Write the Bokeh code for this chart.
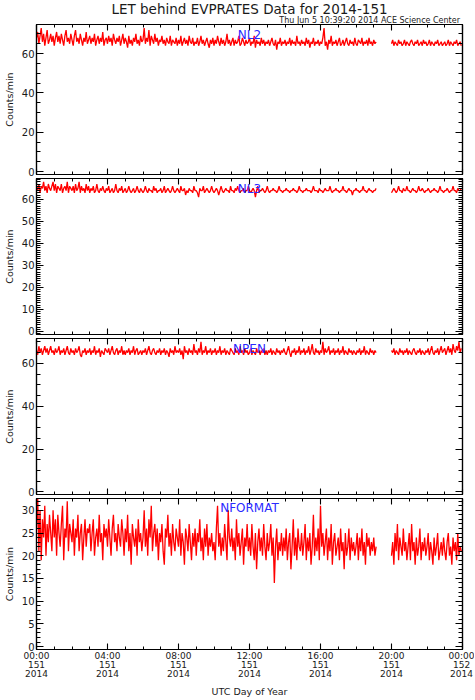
import numpy as np
from bokeh.plotting import figure
from bokeh.layouts import column
from bokeh.models import (Range1d, LinearAxis, SingleIntervalTicker, Label, Title,
                          CustomLabelingPolicy)
from bokeh.embed import file_html
from bokeh.resources import INLINE

# ---------------- texts ----------------
title_text = "LET behind EVPRATES Data for 2014-151"
stamp_text = "Thu Jun  5 10:39:20 2014 ACE Science Center"
x_label = "UTC Day of Year"
y_label = "Counts/min"
panel_names = ["NL2", "NL3", "NPEN", "NFORMAT"]
x_tick_hours = [0, 4, 8, 12, 16, 20, 24]
x_tick_labels = ["00:00\n151\n2014", "04:00\n151\n2014", "08:00\n151\n2014",
                 "12:00\n151\n2014", "16:00\n151\n2014", "20:00\n151\n2014",
                 "00:00\n152\n2014"]

# ---------------- sampling (hours of day 151) ----------------
seg_a_start = 0.0       # data up to ~19:08
seg_b_start = 20.0      # data resumes at 20:00
cadence_h = 4.0 / 60.0  # one value every 4 minutes

# ---------------- series values (counts/min) ----------------
nl2_a = [68, 71, 65, 69, 73, 66, 70, 64, 68, 72, 65, 67, 70, 66, 69,
         64, 68, 71, 66, 69, 65, 70, 67, 64, 69, 72, 66, 68, 65, 70,
         67, 64, 69, 72, 66, 68, 65, 70, 67, 64, 68, 66, 71, 65, 67,
         69, 65, 68, 66, 70, 64, 67, 69, 65, 68, 66, 71, 64, 67, 68,
         65, 69, 66, 68, 64, 70, 67, 65, 68, 66, 69, 64, 67, 70, 65,
         68, 66, 63, 69, 65, 67, 64, 68, 66, 70, 65, 67, 64, 69, 66,
         67, 73, 65, 68, 66, 72, 64, 69, 67, 65, 70, 66, 68, 64, 67,
         66, 69, 65, 67, 64, 68, 66, 65, 69, 64, 67, 66, 65, 68, 64,
         67, 65, 69, 64, 66, 68, 65, 67, 64, 69, 66, 65, 68, 64, 66,
         65, 68, 64, 66, 69, 65, 67, 64, 66, 68, 65, 63, 67, 65, 68,
         64, 67, 65, 69, 66, 64, 68, 65, 67, 64, 66, 70, 65, 67, 64,
         66, 68, 64, 67, 65, 66, 69, 64, 65, 68, 66, 64, 67, 65, 66,
         68, 64, 66, 65, 69, 63, 67, 65, 66, 64, 68, 65, 67, 64, 66,
         65, 67, 64, 66, 68, 65, 64, 67, 62, 66, 65, 68, 64, 66, 65,
         67, 64, 66, 65, 68, 64, 67, 65, 66, 64, 69, 65, 66, 64, 67,
         65, 66, 64, 68, 65, 67, 63, 66, 65, 68, 64, 66, 65, 67, 64,
         66, 65, 68, 73, 64, 66, 62, 67, 65, 69, 64, 66, 65, 67, 64,
         66, 68, 64, 65, 67, 64, 66, 68, 65, 64, 67, 65, 66, 64, 68,
         65, 64, 67, 66, 65, 68, 64, 66, 65, 67, 64, 68, 65, 66, 64,
         67, 65, 66]
nl2_b = [65, 67, 64, 66, 65, 64, 67, 65, 66, 64, 65, 67, 64, 66, 65,
         64, 66, 67, 65, 64, 66, 65, 67, 64, 65, 66, 64, 67, 65, 66,
         64, 65, 67, 64, 66, 65, 64, 66, 65, 67, 64, 65, 66, 64, 65,
         66, 64, 65, 67, 64, 66, 65, 64, 66, 65, 67, 64, 65, 66, 64]

nl3_a = [66, 64, 67, 63, 66, 65, 68, 64, 66, 63, 67, 65, 64, 66, 68,
         64, 67, 63, 66, 65, 64, 67, 63, 65, 66, 64, 68, 63, 66, 65,
         64, 66, 63, 67, 64, 65, 68, 63, 66, 64, 65, 63, 67, 64, 66,
         63, 65, 64, 66, 63, 64, 67, 64, 63, 65, 64, 66, 64, 63, 65,
         64, 66, 63, 64, 65, 63, 64, 67, 64, 63, 65, 64, 66, 63, 64,
         65, 63, 64, 66, 64, 63, 64, 65, 63, 64, 66, 64, 63, 65, 64,
         63, 64, 66, 64, 63, 65, 64, 64, 63, 66, 64, 65, 63, 64, 64,
         65, 63, 64, 66, 63, 64, 65, 64, 63, 64, 66, 64, 63, 64, 65,
         64, 63, 66, 64, 64, 65, 62, 64, 63, 65, 64, 64, 63, 66, 64,
         64, 63, 61, 65, 64, 64, 66, 63, 64, 65, 64, 63, 64, 66, 64,
         63, 64, 65, 64, 62, 64, 66, 64, 63, 64, 65, 64, 64, 63, 66,
         64, 64, 63, 65, 64, 66, 64, 63, 64, 64, 65, 63, 64, 64, 66,
         64, 63, 64, 65, 64, 61, 64, 66, 63, 64, 64, 65, 64, 63, 64,
         66, 64, 63, 64, 64, 65, 64, 64, 63, 64, 66, 64, 64, 63, 64,
         64, 65, 64, 64, 63, 64, 64, 65, 64, 64, 63, 64, 66, 64, 64,
         63, 64, 64, 65, 64, 64, 64, 63, 64, 66, 64, 64, 64, 63, 65,
         64, 64, 63, 64, 65, 64, 64, 64, 66, 64, 63, 64, 64, 65, 64,
         64, 63, 64, 64, 66, 64, 64, 63, 64, 65, 64, 64, 62, 64, 64,
         65, 64, 64, 63, 64, 64, 66, 64, 64, 63, 64, 65, 64, 64, 63,
         64, 64, 65]
nl3_b = [63, 64, 65, 64, 63, 64, 66, 64, 64, 63, 65, 64, 64, 66, 64,
         64, 63, 64, 65, 64, 64, 63, 64, 66, 64, 64, 65, 64, 63, 64,
         64, 65, 64, 63, 64, 64, 65, 64, 64, 63, 64, 66, 64, 64, 63,
         64, 64, 65, 64, 63, 64, 64, 66, 64, 64, 63, 65, 64, 64, 65]

npen_a = [66, 64, 68, 65, 67, 64, 66, 68, 65, 67, 64, 66, 68, 65, 66,
          64, 67, 65, 66, 68, 64, 66, 65, 67, 64, 66, 68, 65, 64, 67,
          65, 66, 64, 67, 65, 66, 68, 64, 63, 66, 65, 67, 64, 66, 65,
          67, 64, 66, 65, 68, 64, 66, 65, 67, 63, 66, 65, 64, 67, 66,
          65, 67, 64, 66, 68, 65, 64, 66, 67, 64, 66, 65, 68, 64, 66,
          64, 66, 65, 67, 64, 66, 65, 68, 64, 66, 67, 64, 65, 66, 64,
          66, 65, 67, 64, 66, 68, 65, 64, 66, 67, 65, 64, 66, 65, 67,
          64, 66, 65, 67, 64, 66, 65, 63, 67, 65, 66, 64, 68, 65, 66,
          65, 67, 64, 66, 62, 68, 65, 66, 64, 67, 65, 66, 64, 69, 65,
          66, 64, 67, 65, 70, 64, 66, 65, 68, 64, 66, 65, 67, 64, 66,
          65, 67, 64, 66, 65, 68, 64, 66, 65, 67, 64, 66, 65, 64, 67,
          66, 65, 64, 67, 65, 66, 64, 68, 65, 66, 64, 67, 65, 66, 64,
          65, 67, 64, 66, 65, 64, 67, 65, 66, 64, 66, 65, 67, 64, 66,
          64, 66, 65, 67, 64, 66, 65, 64, 67, 65, 66, 64, 66, 65, 67,
          65, 64, 66, 68, 65, 63, 66, 65, 67, 64, 66, 65, 68, 64, 66,
          65, 67, 64, 66, 65, 68, 64, 66, 69, 65, 64, 67, 65, 66, 64,
          66, 65, 70, 64, 67, 65, 66, 68, 64, 66, 65, 67, 64, 66, 65,
          67, 64, 66, 65, 68, 64, 66, 65, 64, 67, 65, 66, 64, 66, 65,
          64, 66, 65, 67, 64, 66, 65, 68, 64, 66, 65, 64, 67, 65, 66,
          64, 66, 65]
npen_b = [66, 65, 67, 64, 66, 65, 64, 67, 65, 66, 64, 66, 65, 67, 64,
          66, 65, 64, 66, 67, 65, 64, 66, 65, 67, 64, 66, 65, 64, 66,
          65, 67, 64, 66, 68, 65, 64, 66, 65, 67, 64, 66, 68, 65, 66,
          67, 64, 66, 68, 65, 67, 64, 69, 66, 65, 68, 66, 70, 65, 67]

nformat_a = [26, 33, 21, 30, 19, 28, 24, 31, 20, 27, 23, 29, 25, 21, 30,
             24, 28, 20, 29, 25, 22, 27, 31, 19, 26, 24, 32, 21, 27, 25,
             23, 28, 20, 26, 24, 29, 21, 25, 27, 19, 24, 28, 22, 26, 25,
             27, 21, 25, 28, 20, 24, 26, 22, 29, 23, 25, 19, 27, 24, 26,
             22, 28, 24, 20, 26, 29, 23, 25, 21, 27, 24, 22, 28, 25, 20,
             26, 23, 29, 21, 25, 18, 27, 24, 22, 26, 20, 28, 23, 25, 21,
             24, 30, 22, 26, 20, 28, 24, 31, 21, 25, 27, 22, 26, 19, 25,
             23, 27, 21, 18, 26, 24, 29, 22, 25, 20, 27, 23, 21, 26, 24,
             22, 28, 20, 25, 23, 18, 26, 24, 21, 27, 23, 19, 25, 22, 26,
             20, 25, 23, 28, 21, 24, 19, 26, 22, 27, 20, 24, 22, 25, 21,
             23, 19, 26, 31, 22, 25, 20, 24, 21, 27, 23, 19, 30, 24, 22,
             26, 21, 24, 19, 28, 22, 25, 20, 23, 26, 18, 24, 22, 27, 21,
             24, 20, 27, 22, 19, 25, 17, 23, 26, 21, 24, 20, 27, 22, 19,
             25, 21, 23, 27, 20, 24, 14, 22, 26, 19, 23, 21, 25, 20, 24,
             21, 26, 19, 23, 25, 17, 22, 28, 20, 24, 19, 26, 22, 21, 25,
             20, 23, 27, 19, 24, 21, 25, 18, 22, 29, 20, 24, 21, 26, 19,
             31, 22, 25, 20, 23, 26, 19, 24, 21, 27, 18, 23, 25, 20, 22,
             24, 19, 26, 21, 23, 17, 25, 20, 22, 26, 19, 24, 21, 23, 20,
             22, 25, 19, 24, 21, 26, 20, 23, 18, 25, 22, 24, 20, 23, 21,
             24, 20, 22]
nformat_b = [20, 23, 18, 25, 21, 27, 19, 24, 22, 20, 26, 21, 23, 19, 22,
             25, 19, 27, 21, 23, 18, 24, 20, 22, 26, 19, 23, 21, 24, 20,
             22, 25, 19, 23, 21, 18, 24, 20, 22, 25, 19, 21, 23, 20, 24,
             21, 19, 23, 25, 20, 22, 18, 24, 21, 23, 19, 25, 20, 22, 21]

# ---------------- styling ----------------
FONT = "DejaVu Sans"
TXT = "#1a1a1a"
W = 474
LEFT, RIGHT = 32, 12

NO_LABELS = """
try { const n = indices.size; for (let i = 0; i < n; i++) { indices.unset(i) } } catch (e) {}
return indices
"""


def style_axis(ax, major_in, minor_in, show_labels, font_size="10px"):
    ax.major_tick_in = major_in
    ax.major_tick_out = 0
    ax.minor_tick_in = minor_in
    ax.minor_tick_out = 0
    ax.axis_line_color = "black"
    ax.axis_line_width = 1.2
    ax.major_tick_line_color = "black"
    ax.minor_tick_line_color = "black"
    ax.major_tick_line_width = 1.1
    ax.minor_tick_line_width = 1.0
    ax.major_label_text_font = FONT
    ax.major_label_text_color = TXT
    if show_labels:
        ax.major_label_text_font_size = font_size
        ax.major_label_standoff = 2
    else:
        ax.major_label_policy = CustomLabelingPolicy(code=NO_LABELS)
        ax.major_label_text_font_size = "0px"
        ax.major_label_standoff = 0


def make_panel(name, va, vb, yr, y_int, y_minor, name_y, height, top, bottom, last):
    p = figure(width=W, height=height, x_range=Range1d(0, 24), y_range=Range1d(*yr),
               output_backend="svg", toolbar_location=None,
               x_axis_type=None, y_axis_type=None,
               min_border_left=LEFT, min_border_right=RIGHT,
               min_border_top=top, min_border_bottom=bottom)
    p.grid.visible = False
    p.outline_line_color = "black"
    p.outline_line_width = 1.2
    p.background_fill_color = "white"
    p.border_fill_color = "white"

    ta = seg_a_start + cadence_h * np.arange(len(va))
    tb = seg_b_start + cadence_h * np.arange(len(vb))
    x = np.concatenate([ta, [np.nan], tb])
    y = np.concatenate([np.array(va, float), [np.nan], np.array(vb, float)])
    p.line(x, y, line_color="red", line_width=1.3)

    # axes
    bottom_ax = LinearAxis(ticker=SingleIntervalTicker(interval=4, num_minor_ticks=4))
    style_axis(bottom_ax, 6, 3, last, "9px")
    if last:
        bottom_ax.major_label_overrides = dict(zip(x_tick_hours, x_tick_labels))
        bottom_ax.major_label_text_line_height = 0.9
        bottom_ax.major_label_standoff = 1
        bottom_ax.axis_label = x_label
        bottom_ax.axis_label_text_font = FONT
        bottom_ax.axis_label_text_font_size = "9.5px"
        bottom_ax.axis_label_text_font_style = "normal"
        bottom_ax.axis_label_text_color = TXT
        bottom_ax.axis_label_standoff = 4
    p.add_layout(bottom_ax, "below")

    top_ax = LinearAxis(ticker=SingleIntervalTicker(interval=4, num_minor_ticks=4))
    style_axis(top_ax, 6, 3, False)
    p.add_layout(top_ax, "above")

    left_ax = LinearAxis(ticker=SingleIntervalTicker(interval=y_int, num_minor_ticks=y_minor))
    style_axis(left_ax, 7, 4, True, "10px")
    left_ax.axis_label = y_label
    left_ax.axis_label_text_font = FONT
    left_ax.axis_label_text_font_size = "9.5px"
    left_ax.axis_label_text_font_style = "normal"
    left_ax.axis_label_text_color = TXT
    left_ax.axis_label_standoff = 4
    p.add_layout(left_ax, "left")

    right_ax = LinearAxis(ticker=SingleIntervalTicker(interval=y_int, num_minor_ticks=y_minor))
    style_axis(right_ax, 7, 4, False)
    p.add_layout(right_ax, "right")

    p.add_layout(Label(x=12, y=name_y, text=name, text_align="center",
                       text_baseline="middle", text_color="#2a2aff",
                       text_font=FONT, text_font_size="12px"))
    return p


p1 = make_panel(panel_names[0], nl2_a, nl2_b, (-1.5, 74.8), 20, 4, 69.7, 178, 0, 4, False)
p1.add_layout(Title(text=stamp_text, align="right", vertical_align="middle",
                    text_font=FONT, text_font_size="8px",
                    text_font_style="normal", text_color=TXT, standoff=-3), "above")
p1.add_layout(Title(text=title_text, align="center", vertical_align="middle",
                    text_font=FONT, text_font_size="13.5px",
                    text_font_style="normal", text_color=TXT, standoff=-2), "above")
p2 = make_panel(panel_names[1], nl3_a, nl3_b, (-1.4, 69.5), 10, 10, 64.6, 160, 0, 4, False)
p3 = make_panel(panel_names[2], npen_a, npen_b, (-1.2, 71.6), 20, 4, 66.5, 160, 0, 4, False)
p4 = make_panel(panel_names[3], nformat_a, nformat_b, (-0.65, 32.6), 5, 5, 30.6, 201, 0, 47, True)

layout = column(p1, p2, p3, p4, spacing=0)
open("out.html", "w").write(file_html(layout, INLINE))
